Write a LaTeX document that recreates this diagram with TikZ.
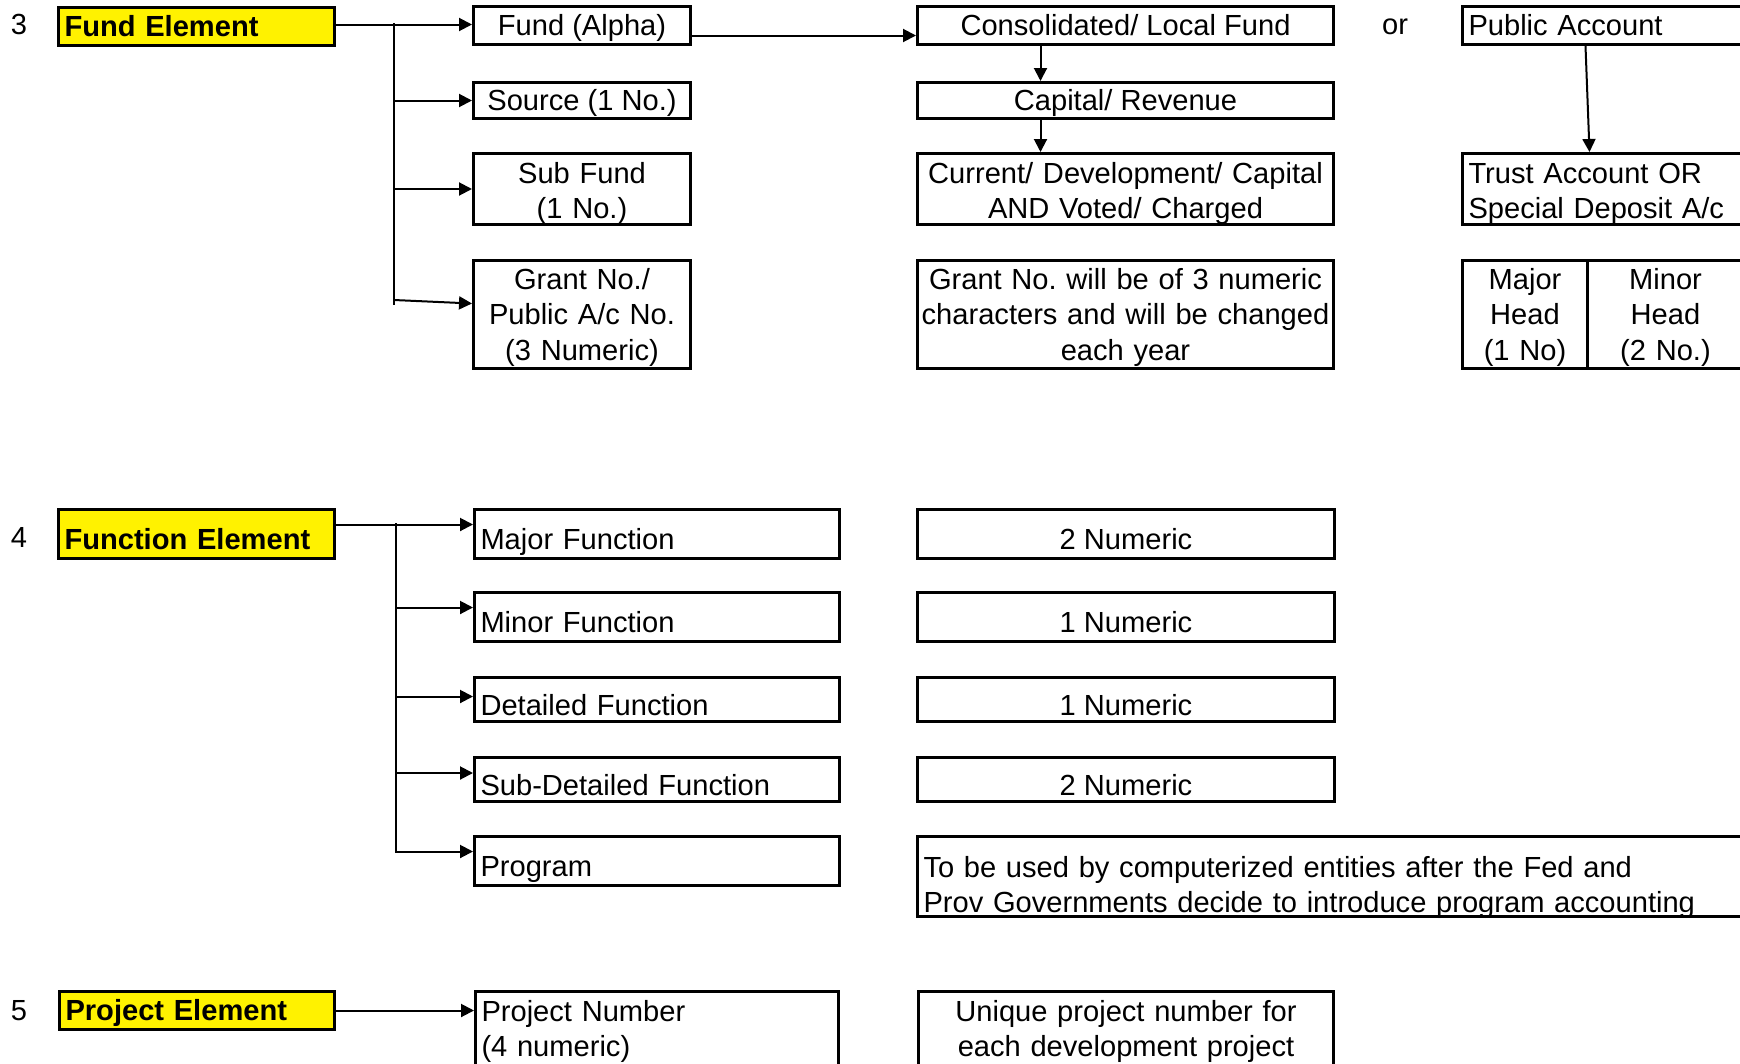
\documentclass[tikz,border=0pt]{standalone}
\usepackage{fontspec}
\setmainfont{Liberation Sans}
\usetikzlibrary{arrows.meta}
\begin{document}
\frenchspacing
\begin{tikzpicture}[x=1pt,y=-1pt,
  every node/.style={font=\fontsize{29.1}{35.5}\selectfont, inner sep=0pt},
  box/.style={draw, line width=3pt, anchor=north west},
  ybox/.style={box, fill=yellow, font=\fontsize{29.1}{35.5}\selectfont\bfseries, align=left, inner xsep=6pt, text height=22pt, text depth=2pt},
  one/.style={text height=22pt, text depth=2pt},
  two/.style={text height=22pt, text depth=34pt},
  three/.style={text height=22pt, text depth=72.6pt},
  low/.style={text height=31pt, text depth=0pt},
  lt/.style={align=left, inner xsep=6pt, text width=#1},
  ct/.style={align=center, text width=#1},
  conn/.style={line width=2pt},
  arr/.style={conn, -{Triangle[length=13pt,width=13pt]}},
]
\useasboundingbox (0,0) rectangle (1740,1063);
\clip (0,0) rectangle (1740,1063);

% ---------- Section 3 ----------
\node[one] (n3) at (19,24) {3};
\node[ybox, text width=264pt, minimum height=38pt] (fe) at (57,6) {Fund Element};
\node[box, one, minimum width=217pt, minimum height=38pt] (fa) at (472,5) {Fund (Alpha)};
\node[box, one, minimum width=217pt, minimum height=36pt] (src) at (472,81) {Source (1 No.)};
\node[box, two, ct=217pt, minimum height=71pt] (sf) at (472,152) {Sub Fund\\(1 No.)};
\node[box, three, ct=217pt, minimum height=108pt] (gr) at (472,259) {Grant No./\\Public A/c No.\\(3 Numeric)};

\node[box, one, minimum width=416pt, minimum height=38pt] (cl) at (916,5) {Consolidated/ Local Fund};
\node[box, one, minimum width=416pt, minimum height=36pt] (cap) at (916,81) {Capital/ Revenue};
\node[box, two, ct=416pt, minimum height=71pt] (cur) at (916,152) {Current/ Development/ Capital\\AND Voted/ Charged};
\node[box, three, ct=416pt, minimum height=108pt] (gt) at (916,259) {Grant No. will be of 3 numeric\\characters and will be changed\\each year};

\node[one] (or) at (1395,24) {or};
\node[box, one, lt=272pt, minimum height=38pt] (pa) at (1461,5) {Public Account};
\node[box, two, lt=272pt, minimum height=71pt] (tr) at (1461,152) {Trust Account OR\\Special Deposit A/c};
\node[box, three, ct=125pt, minimum height=108pt] (mjh) at (1461,259) {Major\\Head\\(1 No)};
\node[box, three, ct=156pt, minimum height=108pt] (mnh) at (1586,259) {Minor\\Head\\(2 No.)};

\coordinate (t3top) at (394,23);
\coordinate (t3bot) at (394,305);
\coordinate (t3g) at (394,300);
\coordinate (grin) at ([yshift=11pt]gr.west);
\draw[arr] ([yshift=2pt]fe.east) -- ([yshift=2pt]fe.east -| fa.west);
\draw[conn] (t3top) -- (t3bot);
\draw[arr] (t3top |- src.west) -- (src.west);
\draw[arr] (t3top |- sf.west) -- (sf.west);
\draw[arr] (t3g) -- (grin);
\coordinate (faout) at ([yshift=-10pt]fa.east);
\draw[arr] (faout) -- (faout -| cl.west);
\draw[arr] ([xshift=-85pt]cl.south) -- ([xshift=-85pt]cap.north);
\draw[arr] ([xshift=-85pt]cap.south) -- ([xshift=-85pt]cur.north);
\draw[arr] ([xshift=-19pt]pa.south) -- ([xshift=-15pt]tr.north);

% ---------- Section 4 ----------
\node[one] (n4) at (19,537) {4};
\node[ybox, low, text width=264pt, minimum height=49pt] (fn) at (57,508) {Function Element};
\node[box, low, lt=353pt, minimum height=49pt] (mj) at (473,508) {Major Function};
\node[box, low, lt=353pt, minimum height=49pt] (mi) at (473,591) {Minor Function};
\node[box, low, lt=353pt, minimum height=44pt] (de) at (473,676) {Detailed Function};
\node[box, low, lt=353pt, minimum height=44pt] (sd) at (473,756) {Sub-Detailed Function};
\node[box, low, lt=353pt, minimum height=49pt] (pg) at (473,835) {Program};

\node[box, low, minimum width=417pt, minimum height=49pt] (r1) at (916,508) {2 Numeric};
\node[box, low, minimum width=417pt, minimum height=49pt] (r2) at (916,591) {1 Numeric};
\node[box, low, minimum width=417pt, minimum height=44pt] (r3) at (916,676) {1 Numeric};
\node[box, low, minimum width=417pt, minimum height=44pt] (r4) at (916,756) {2 Numeric};
\node[box, lt=817pt, text height=38pt, text depth=37pt, minimum height=80pt] (ptx) at (916,835) {To be used by computerized entities after the Fed and\\Prov Governments decide to introduce program accounting};

\coordinate (t4top) at (396,523);
\coordinate (t4bot) at (396,853);
\coordinate (fnout) at ([yshift=9.5pt]fn.east);
\coordinate (miin) at ([yshift=9.5pt]mi.west);
\coordinate (dein) at ([yshift=3pt]de.west);
\coordinate (sdin) at ([yshift=6.5pt]sd.west);
\coordinate (pgin) at ([yshift=9.5pt]pg.west);
\draw[arr] (fnout) -- (fnout -| mj.west);
\draw[conn] (t4top) -- (t4bot);
\draw[arr] (miin -| t4top) -- (miin);
\draw[arr] (dein -| t4top) -- (dein);
\draw[arr] (sdin -| t4top) -- (sdin);
\draw[arr] (pgin -| t4top) -- (pgin);

% ---------- Section 5 ----------
\node[one] (n5) at (19,1010) {5};
\node[ybox, text width=263pt, minimum height=38pt] (pe) at (58,990) {Project Element};
\node[box, lt=351pt, text height=22pt, text depth=43pt, minimum height=80pt] (pn) at (474,990) {Project Number\\(4 numeric)};
\node[box, ct=415pt, text height=22pt, text depth=43pt, minimum height=80pt] (un) at (917,990) {Unique project number for\\each development project};
\draw[arr] (pe.east) -- (pe.east -| pn.west);
\end{tikzpicture}
\end{document}
